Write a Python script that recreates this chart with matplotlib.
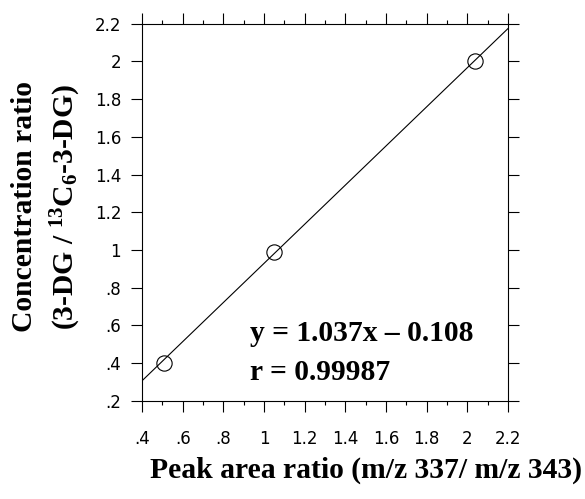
import matplotlib
matplotlib.use("Agg")
import matplotlib.pyplot as plt
from matplotlib.ticker import MultipleLocator, FuncFormatter

# calibration points
peak_ratio = [0.51, 1.05, 2.04]
conc_ratio = [0.40, 0.99, 2.00]
slope, intercept = 1.037, -0.108
fit_x = [0.4, 2.2]
fit_y = [slope * v + intercept for v in fit_x]

x_ticks = [0.4, 0.6, 0.8, 1.0, 1.2, 1.4, 1.6, 1.8, 2.0, 2.2]
y_ticks = [0.2, 0.4, 0.6, 0.8, 1.0, 1.2, 1.4, 1.6, 1.8, 2.0, 2.2]

plt.rcParams['mathtext.default'] = 'regular'


def short_label(v, pos=None):
    # 0.4 -> ".4", 1.0 -> "1"
    s = ('%.1f' % v).rstrip('0').rstrip('.')
    if s.startswith('0.'):
        s = s[1:]
    return s


fig = plt.figure(figsize=(5.85, 4.99), dpi=100)
ax = fig.add_axes([0.2427, 0.1964, 0.6257, 0.7565])

ax.plot(fit_x, fit_y, color='black', lw=0.8)
ax.plot(peak_ratio, conc_ratio, 'o', mfc='none', mec='black', ms=11, mew=0.8)

ax.set_xlim(0.4, 2.2)
ax.set_ylim(0.2, 2.2)
ax.set_xticks(x_ticks)
ax.set_yticks(y_ticks)
ax.xaxis.set_minor_locator(MultipleLocator(0.1))
ax.xaxis.set_major_formatter(FuncFormatter(short_label))
ax.yaxis.set_major_formatter(FuncFormatter(short_label))

ax.tick_params(which='both', direction='out', top=True, right=True,
               width=0.8, colors='black')
ax.tick_params(which='major', length=8)
ax.tick_params(which='minor', length=3)
ax.tick_params(axis='x', which='major', pad=13, labelsize=12)
ax.tick_params(axis='y', which='major', pad=7, labelsize=12)
for sp in ax.spines.values():
    sp.set_linewidth(0.8)

serif = dict(family='Liberation Serif', weight='bold', size=21.3)
ax.text(0.931, 0.518, 'y = 1.037x \u2013 0.108', ha='left', va='baseline', **serif)
ax.text(0.931, 0.311, 'r = 0.99987', ha='left', va='baseline', **serif)

fig.text(0.625, 0.058, 'Peak area ratio (m/z 337/ m/z 343)',
         ha='center', va='center', **serif)
fig.text(0.042, 0.587, 'Concentration ratio', rotation=90,
         ha='center', va='center', **serif)
fig.text(0.113, 0.585, '(3-DG / $^{13}$C$_6$-3-DG)', rotation=90,
         ha='center', va='center', **serif)

fig.savefig('out.png', dpi=100)
